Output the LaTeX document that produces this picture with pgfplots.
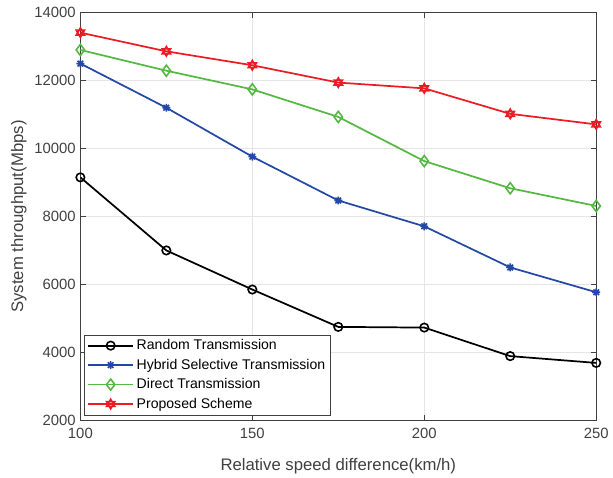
\documentclass[border=0pt]{standalone}
\usepackage{pgfplots}
\pgfplotsset{compat=1.18}
\usepackage{fontspec}
\setmainfont{Liberation Sans}
\usetikzlibrary{plotmarks}
\definecolor{cblue}{RGB}{36,72,165}
\definecolor{cgreen}{RGB}{84,184,66}
\definecolor{cred}{RGB}{236,28,36}
\definecolor{tickgray}{RGB}{64,64,64}
\pgfdeclareplotmark{hexagram}{%
  \pgfpathmoveto{\pgfqpointpolar{90}{\pgfplotmarksize}}%
  \pgfpathlineto{\pgfqpointpolar{210}{\pgfplotmarksize}}%
  \pgfpathlineto{\pgfqpointpolar{330}{\pgfplotmarksize}}%
  \pgfpathclose
  \pgfpathmoveto{\pgfqpointpolar{270}{\pgfplotmarksize}}%
  \pgfpathlineto{\pgfqpointpolar{30}{\pgfplotmarksize}}%
  \pgfpathlineto{\pgfqpointpolar{150}{\pgfplotmarksize}}%
  \pgfpathclose
  \pgfusepathqstroke}
\pgfdeclareplotmark{mstar}{%
  \pgfpathmoveto{\pgfqpoint{-\pgfplotmarksize}{0pt}}\pgfpathlineto{\pgfqpoint{\pgfplotmarksize}{0pt}}%
  \pgfpathmoveto{\pgfqpoint{0pt}{-\pgfplotmarksize}}\pgfpathlineto{\pgfqpoint{0pt}{\pgfplotmarksize}}%
  \pgfpathmoveto{\pgfqpointpolar{45}{\pgfplotmarksize}}\pgfpathlineto{\pgfqpointpolar{225}{\pgfplotmarksize}}%
  \pgfpathmoveto{\pgfqpointpolar{135}{\pgfplotmarksize}}\pgfpathlineto{\pgfqpointpolar{315}{\pgfplotmarksize}}%
  \pgfusepathqstroke}
\begin{document}
\begin{tikzpicture}
\begin{axis}[
  name=ax,
  scale only axis,
  width=389pt, height=307.5pt,
  xmin=100, xmax=250, ymin=2000, ymax=14000,
  xtick={100,150,200,250},
  ytick={2000,4000,6000,8000,10000,12000,14000},
  scaled y ticks=false,
  /pgf/number format/assume math mode=true,
  /pgf/number format/set thousands separator={},
  tick label style={font=\fontsize{11.2}{13}\selectfont, text=tickgray},
  xticklabel style={yshift=-2pt},
  label style={font=\fontsize{12.6}{14}\selectfont, text=tickgray},
  xlabel={Relative speed difference(km/h)},
  ylabel={System throughput(Mbps)},
  xlabel style={yshift=-8pt},
  ylabel style={yshift=-1pt},
  grid=major,
  major grid style={black!10, line width=0.5pt},
  axis line style={tickgray, line width=0.5pt},
  tick style={tickgray},
  tick align=inside,
  major tick length=4pt,
  legend style={at={(3pt,4pt)}, anchor=south west, font=\fontsize{10.6}{12}\selectfont, draw=tickgray, line width=0.4pt, inner xsep=2pt, inner ysep=1.5pt, row sep=1.5pt},
  legend cell align=left,
  legend image code/.code={\draw[mark repeat=2, mark phase=2] plot coordinates {(0pt,0pt) (17pt,0pt) (34pt,0pt)};},
  every axis plot/.append style={line width=1.3pt},
]
\addplot[black, mark=o, mark size=3.2pt, mark options={line width=1.2pt}] coordinates {
(100,9150) (125,7000) (150,5850) (175,4750) (200,4730) (225,3890) (250,3690)};
\addlegendentry{Random Transmission}
\addplot[cblue, mark=mstar, mark size=3pt, mark options={line width=1.2pt}] coordinates {
(100,12500) (125,11200) (150,9760) (175,8470) (200,7710) (225,6500) (250,5770)};
\addlegendentry{Hybrid Selective Transmission}
\addplot[cgreen, mark=diamond, mark size=4.2pt, mark options={line width=1.2pt}] coordinates {
(100,12900) (125,12290) (150,11740) (175,10930) (200,9630) (225,8830) (250,8310)};
\addlegendentry{Direct Transmission}
\addplot[cred, mark=hexagram, mark size=3.6pt, mark options={line width=1.2pt}] coordinates {
(100,13410) (125,12860) (150,12450) (175,11940) (200,11770) (225,11020) (250,10710)};
\addlegendentry{Proposed Scheme}
\end{axis}
\path ([xshift=-5pt]current bounding box.west) ([yshift=9.5pt]ax.north);
\end{tikzpicture}
\end{document}
